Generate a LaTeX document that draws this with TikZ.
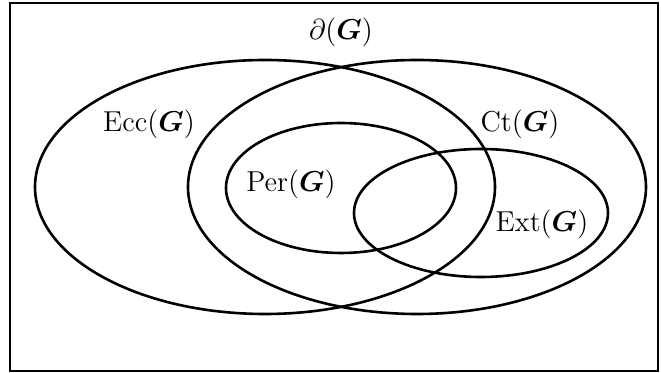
\documentclass[tikz,border=0pt]{standalone}
\usepackage{amsmath,bm}
\tikzset{
  setline/.style={line width=1.3pt},
  setlabel/.style={inner sep=0pt, font=\fontsize{15}{18}\selectfont},
}
\begin{document}
\begin{tikzpicture}[x=0.5pt, y=-0.5pt]
  \useasboundingbox (0,0) rectangle (661,373);
  \draw[line width=1.2pt] (10,3) rectangle (658,371);

  % the sets
  \draw[setline] (265,187) ellipse [x radius=230, y radius=127];
  \draw[setline] (417,187) ellipse [x radius=229, y radius=127];
  \draw[setline] (341,188) ellipse [x radius=115, y radius=65];
  \draw[setline] (481,213) ellipse [x radius=127, y radius=64];

  % names
  \node[setlabel] (bnd) at (341,32) {$\partial(\bm{G})$};
  \node[setlabel] (ecc) at (149,124) {$\mathrm{Ecc}(\bm{G})$};
  \node[setlabel] (ct) at (520,124) {$\mathrm{Ct}(\bm{G})$};
  \node[setlabel] (per) at (291,184) {$\mathrm{Per}(\bm{G})$};
  \node[setlabel] (ext) at (542,224) {$\mathrm{Ext}(\bm{G})$};
\end{tikzpicture}
\end{document}
